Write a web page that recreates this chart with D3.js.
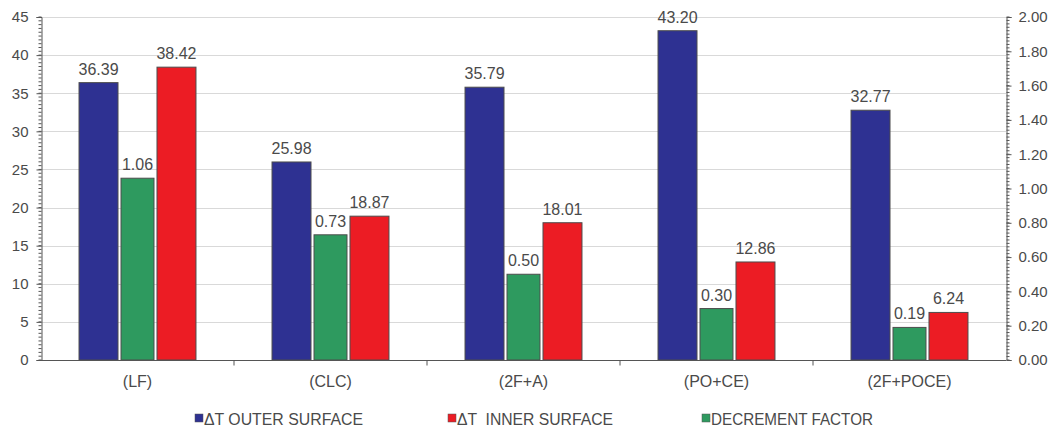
<!DOCTYPE html>
<html>
<head>
<meta charset="utf-8">
<script src="https://cdn.jsdelivr.net/npm/d3@7"></script>
<style>
  body { margin: 0; background: #fff; }
  svg { display: block; font-family: "Liberation Sans", Arial, sans-serif; }
</style>
</head>
<body>
<svg id="chart" width="1058" height="432"></svg>
<script>
const categories = ["(LF)", "(CLC)", "(2F+A)", "(PO+CE)", "(2F+POCE)"];
const outerSurface = [36.39, 25.98, 35.79, 43.20, 32.77];
const decrementFactor = [1.06, 0.73, 0.50, 0.30, 0.19];
const innerSurface = [38.42, 18.87, 18.01, 12.86, 6.24];
const leftTicks = [0, 5, 10, 15, 20, 25, 30, 35, 40, 45];
const rightTicks = [0, 0.2, 0.4, 0.6, 0.8, 1.0, 1.2, 1.4, 1.6, 1.8, 2.0];

const svg = d3.select("#chart");
const plotLeft = 41, plotRight = 1006, plotTop = 17, plotBottom = 360;
const textColor = "#4a4a4a";

const x0 = d3.scaleBand().domain(categories).range([plotLeft, plotRight]).paddingInner(0.394).paddingOuter(0.197);
const x1 = d3.scaleBand().domain(["outer", "decrement", "inner"]).range([0, x0.bandwidth()]);
const yL = d3.scaleLinear().domain([0, 45]).range([plotBottom, plotTop]);
const yR = d3.scaleLinear().domain([0, 2]).range([plotBottom, plotTop]);

// gridlines
svg.append("g")
  .selectAll("line")
  .data(leftTicks.slice(1))
  .join("line")
  .attr("x1", plotLeft).attr("x2", plotRight)
  .attr("y1", d => Math.round(yL(d)) + 0.5).attr("y2", d => Math.round(yL(d)) + 0.5)
  .attr("stroke", "#d9d9d9");

const series = [
  { key: "outer", values: outerSurface, color: "#2e3192", y: yL, inset: 0 },
  { key: "decrement", values: decrementFactor, color: "#2e9a5f", y: yR, inset: 3 },
  { key: "inner", values: innerSurface, color: "#ec1c24", y: yL, inset: 0 }
];
const fmt = d3.format(".2f");

series.forEach(s => {
  const g = svg.append("g");
  g.selectAll("rect")
    .data(s.values)
    .join("rect")
    .attr("x", (d, i) => x0(categories[i]) + x1(s.key) + s.inset)
    .attr("width", x1.bandwidth() - 2 * s.inset)
    .attr("y", d => s.y(d))
    .attr("height", d => plotBottom - s.y(d))
    .attr("fill", s.color)
    .attr("stroke", "#4d4d4d")
    .attr("stroke-width", 1);
  g.selectAll("text")
    .data(s.values)
    .join("text")
    .attr("x", (d, i) => x0(categories[i]) + x1(s.key) + x1.bandwidth() / 2)
    .attr("y", d => s.y(d) - 8)
    .attr("text-anchor", "middle")
    .attr("font-size", 16)
    .attr("fill", textColor)
    .text(d => fmt(d));
});

// left axis
const axL = svg.append("g").attr("transform", `translate(${plotLeft + 0.5},0)`)
  .call(d3.axisLeft(yL).tickValues(leftTicks).tickSize(5).tickPadding(8).tickFormat(d3.format("d")));
axL.append("g").selectAll("line").data(d3.range(0, 45.01, 0.5))
  .join("line").attr("x1", -3).attr("x2", 0)
  .attr("y1", d => yL(d)).attr("y2", d => yL(d)).attr("stroke", "#555");

// right axis
const axR = svg.append("g").attr("transform", `translate(${plotRight + 0.5},0)`)
  .call(d3.axisRight(yR).tickValues(rightTicks).tickSize(5).tickPadding(7).tickFormat(d3.format(".2f")));
axR.append("g").selectAll("line").data(d3.range(0, 2.001, 0.02))
  .join("line").attr("x1", 0).attr("x2", 3)
  .attr("y1", d => yR(d)).attr("y2", d => yR(d)).attr("stroke", "#555");

// x axis
const gap = (x0.step() - x0.bandwidth()) / 2;
const axX = svg.append("g").attr("transform", `translate(0,${plotBottom + 0.5})`);
axX.append("line").attr("x1", plotLeft).attr("x2", plotRight).attr("stroke", "#555");
axX.selectAll("line.sep").data(categories.slice(1))
  .join("line").attr("class", "sep")
  .attr("x1", d => x0(d) - gap).attr("x2", d => x0(d) - gap)
  .attr("y1", 0).attr("y2", 5).attr("stroke", "#555");
axX.selectAll("text").data(categories)
  .join("text")
  .attr("x", d => x0(d) + x0.bandwidth() / 2)
  .attr("y", 26)
  .attr("text-anchor", "middle")
  .attr("font-size", 16)
  .attr("fill", textColor)
  .text(d => d);

[axL, axR].forEach(a => {
  a.select(".domain").attr("stroke", "#555");
  a.selectAll(".tick line").attr("stroke", "#555");
  a.selectAll(".tick text").attr("font-size", 15).attr("fill", textColor)
    .attr("font-family", "'Liberation Sans', Arial, sans-serif");
});

// legend
const legendItems = [
  { label: "ΔT OUTER SURFACE", color: "#2e3192", x: 195, w: 159 },
  { label: "ΔT  INNER SURFACE", color: "#ec1c24", x: 448, w: 156 },
  { label: "DECREMENT FACTOR", color: "#2e9a5f", x: 702, w: 162 }
];
const lg = svg.append("g");
legendItems.forEach(it => {
  lg.append("rect").attr("x", it.x).attr("y", 414).attr("width", 8).attr("height", 8)
    .attr("fill", it.color).attr("stroke", "#555").attr("stroke-width", 0.5);
  lg.append("text").attr("x", it.x + 9).attr("y", 425)
    .attr("font-size", 16).attr("fill", textColor)
    .attr("textLength", it.w).attr("lengthAdjust", "spacingAndGlyphs")
    .style("white-space", "pre")
    .text(it.label);
});
</script>
</body>
</html>
